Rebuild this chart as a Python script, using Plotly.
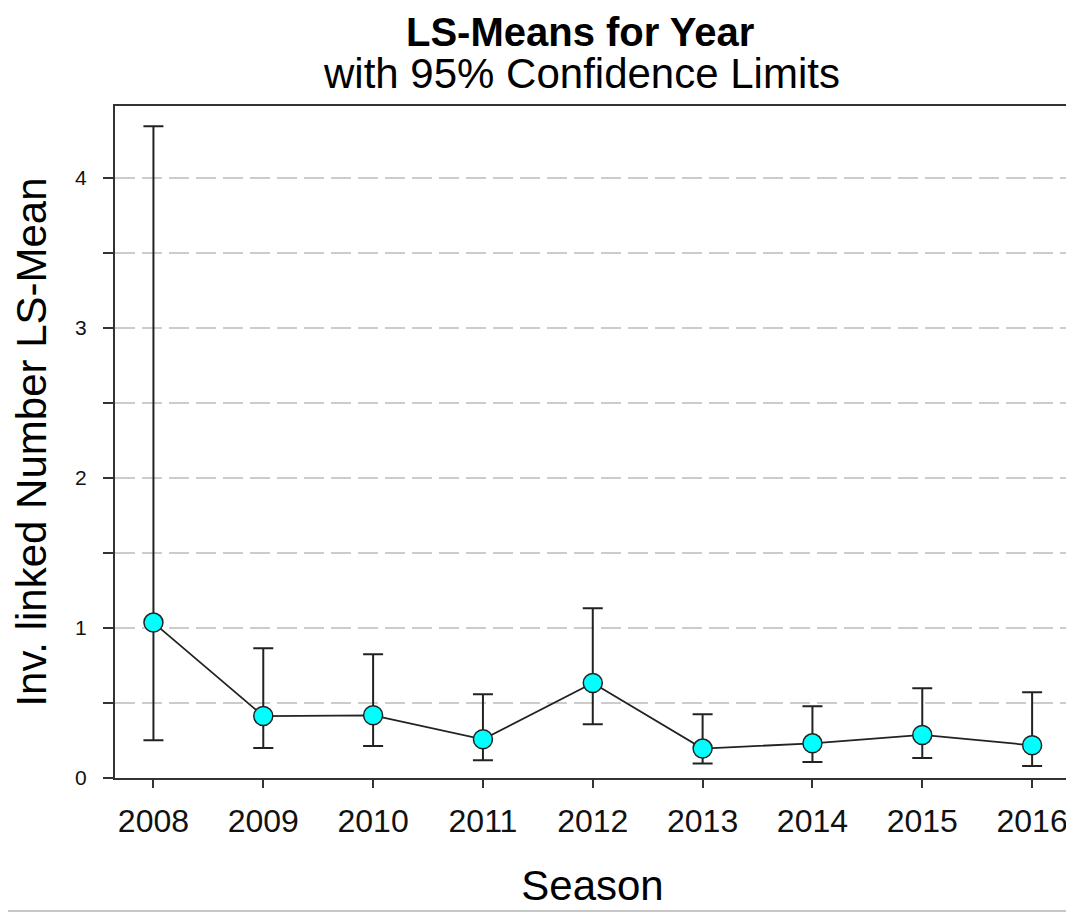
import plotly.graph_objects as go

years = [2008, 2009, 2010, 2011, 2012, 2013, 2014, 2015, 2016]
means = [1.036, 0.413, 0.418, 0.258, 0.633, 0.196, 0.231, 0.287, 0.218]
upper = [4.345, 0.865, 0.825, 0.558, 1.131, 0.425, 0.478, 0.598, 0.572]
lower = [0.251, 0.200, 0.213, 0.118, 0.358, 0.096, 0.107, 0.133, 0.080]

y_tickvals = [0, 0.5, 1, 1.5, 2, 2.5, 3, 3.5, 4]
y_ticktext = ["0", "", "1", "", "2", "", "3", "", "4"]

err_plus = [u - m for u, m in zip(upper, means)]
err_minus = [m - l for m, l in zip(means, lower)]

FONT = "Liberation Sans, Arial, sans-serif"
# page body has an 8px margin, so the figure is drawn 8px in from the top-left
OFF = 8
W, H = 1074 - OFF, 913 - OFF
ML, MR, MT, MB = 115 - OFF, 4, 106 - OFF, 135
plot_h = H - MT - MB
plot_w = W - ML - MR

def py(ypix):
    return (H - MB - (ypix - OFF)) / plot_h

def px(xpix):
    return ((xpix - OFF) - ML) / plot_w

fig = go.Figure()
fig.add_trace(go.Scatter(
    x=years, y=means, mode="lines+markers",
    line=dict(color="#222222", width=1.8),
    marker=dict(size=19, color="#00FFFF", line=dict(color="#222222", width=1.5)),
    error_y=dict(type="data", symmetric=False, array=err_plus, arrayminus=err_minus,
                 color="#222222", thickness=2, width=10),
    showlegend=False,
))

fig.update_layout(
    width=W, height=H,
    margin=dict(l=ML, r=MR, t=MT, b=MB, autoexpand=False),
    paper_bgcolor="white", plot_bgcolor="white",
    font=dict(family=FONT, color="black"),
    xaxis=dict(
        range=[2007.65, 2016.345], tickvals=years, ticktext=[str(y) for y in years],
        ticks="outside", ticklen=8, tickwidth=2, tickcolor="#333333",
        showline=True, linecolor="#333333", linewidth=2, mirror=True,
        showgrid=False, zeroline=False, ticklabelstandoff=6,
        tickfont=dict(size=32, family=FONT, color="#111111"),
        title=dict(text="Season", font=dict(size=42, family=FONT), standoff=32),
    ),
    yaxis=dict(
        range=[0, 4.48], tickvals=y_tickvals, ticktext=y_ticktext,
        ticks="outside", ticklen=10, tickwidth=2, tickcolor="#333333",
        showline=True, linecolor="#333333", linewidth=2, mirror=True,
        showgrid=True, gridcolor="#cccccc", griddash="20px,7px", gridwidth=2,
        zeroline=False, ticklabelstandoff=12,
        tickfont=dict(size=21, family=FONT, color="#111111"),
        title=dict(text="Inv. linked Number LS-Mean", font=dict(size=42, family=FONT), standoff=26),
    ),
    annotations=[
        dict(text="<b>LS-Means for Year</b>", x=px(580), y=py(32), xref="paper", yref="paper",
             yanchor="middle", showarrow=False, font=dict(size=40, family=FONT, color="black")),
        dict(text="with 95% Confidence Limits", x=px(581), y=py(74), xref="paper", yref="paper",
             yanchor="middle", showarrow=False, font=dict(size=42, family=FONT, color="black")),
    ],
    shapes=[
        dict(type="line", xref="paper", yref="paper",
             x0=px(0), x1=px(1074), y0=py(911), y1=py(911),
             line=dict(color="#c8c8c8", width=2)),
    ],
)

fig.write_html("out.html")
